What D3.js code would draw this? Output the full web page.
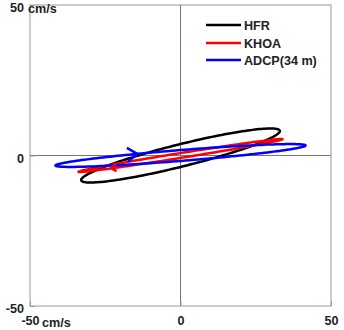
<!DOCTYPE html>
<html>
<head>
<meta charset="utf-8">
<script src="https://cdn.jsdelivr.net/npm/d3@7"></script>
<style>
  body { margin: 0; background: #fff; }
  text { font-family: "Liberation Sans", Arial, sans-serif; font-weight: bold; }
</style>
</head>
<body>
<div id="viz"></div>
<script>
// tidal ellipse parameters (cm/s, degrees)
var names = ["HFR", "KHOA", "ADCP(34 m)"];
var colors = ["#000000", "#ff0000", "#0000ff"];
var semiMajor = [34, 34.3, 41.7];
var semiMinor = [3.7, 0.8, 1.8];
var inclination = [14, 9.1, 4.6];
// phase of the direction marker on each ellipse (null = none drawn)
var markerPhase = [null, -133, 110];
var markerSize = [0, 6, 12];

var ticks = [-50, 0, 50];

var W = 344, H = 330;
var boxLeft = 30, boxRight = 331, boxTop = 5, boxBottom = 306;
var FONT = 12.6;

var svg = d3.select("#viz").append("svg")
	.attr("width", W)
	.attr("height", H);

var x = d3.scaleLinear().domain([-50, 50]).range([boxLeft, boxRight]);
var y = d3.scaleLinear().domain([-50, 50]).range([boxBottom, boxTop]);

// box
svg.append("rect")
	.attr("x", boxLeft).attr("y", boxTop)
	.attr("width", boxRight - boxLeft).attr("height", boxBottom - boxTop)
	.attr("fill", "none").attr("stroke", "#999").attr("stroke-width", 1);

// zero lines
svg.append("line")
	.attr("x1", x(0)).attr("x2", x(0)).attr("y1", boxTop).attr("y2", boxBottom)
	.attr("stroke", "#777").attr("stroke-width", 1);
svg.append("line")
	.attr("x1", boxLeft).attr("x2", boxRight).attr("y1", y(0)).attr("y2", y(0))
	.attr("stroke", "#777").attr("stroke-width", 1);

// axes (inward ticks)
var fmt = function(d) { return String(d); };
var yAxis = svg.append("g")
	.attr("transform", "translate(" + boxLeft + ",0)")
	.call(d3.axisLeft(y).tickValues(ticks).tickSize(-5).tickPadding(6).tickFormat(fmt));
var xAxis = svg.append("g")
	.attr("transform", "translate(0," + boxBottom + ")")
	.call(d3.axisBottom(x).tickValues(ticks).tickSize(-5).tickPadding(10).tickFormat(fmt));

[yAxis, xAxis].forEach(function(g) {
	g.select(".domain").remove();
	g.selectAll(".tick line").attr("stroke", "#999");
	g.selectAll(".tick text")
		.attr("fill", "#222")
		.style("font-size", FONT + "px")
		.style("font-family", "'Liberation Sans', Arial, sans-serif")
		.style("font-weight", "bold");
});
yAxis.selectAll(".tick text").attr("dy", "0.55em");

// units
svg.append("text").attr("x", 28).attr("y", 13).attr("font-size", FONT).attr("fill", "#222").text("cm/s");
svg.append("text").attr("x", 42).attr("y", 327).attr("font-size", FONT).attr("fill", "#222").text("cm/s");

// point on ellipse i at phase t (radians), in data units
function ellipsePoint(i, t) {
	var th = inclination[i] * Math.PI / 180;
	var a = semiMajor[i], b = semiMinor[i];
	return [
		a * Math.cos(t) * Math.cos(th) - b * Math.sin(t) * Math.sin(th),
		a * Math.cos(t) * Math.sin(th) + b * Math.sin(t) * Math.cos(th)
	];
}

var line = d3.line()
	.x(function(d) { return x(d[0]); })
	.y(function(d) { return y(d[1]); })
	.curve(d3.curveLinearClosed);

var phases = d3.range(0, 360, 2).map(function(d) { return d * Math.PI / 180; });

names.forEach(function(name, i) {
	var pts = phases.map(function(t) { return ellipsePoint(i, t); });
	svg.append("path")
		.attr("d", line(pts))
		.attr("fill", "none")
		.attr("stroke", colors[i])
		.attr("stroke-width", 2.5);
});

// direction markers (clockwise rotation)
names.forEach(function(name, i) {
	if (markerPhase[i] === null) return;
	var t = markerPhase[i] * Math.PI / 180;
	var p = ellipsePoint(i, t);
	var q = ellipsePoint(i, t - 0.02);
	var px = x(p[0]), py = y(p[1]);
	var dx = x(q[0]) - px, dy = y(q[1]) - py;
	var len = Math.sqrt(dx * dx + dy * dy);
	dx /= len; dy /= len;
	var s = markerSize[i];
	var ang = 35 * Math.PI / 180;
	var back = function(sign) {
		var c = Math.cos(sign * ang), sn = Math.sin(sign * ang);
		var rx = -dx * c + dy * sn, ry = -dx * sn - dy * c;
		return [px + rx * s, py + ry * s];
	};
	var b1 = back(1), b2 = back(-1);
	svg.append("path")
		.attr("d", "M" + b1[0] + "," + b1[1] + " L" + px + "," + py + " L" + b2[0] + "," + b2[1])
		.attr("fill", "none")
		.attr("stroke", colors[i])
		.attr("stroke-width", 2.5)
		.attr("stroke-linejoin", "round");
});

// legend
var legendY = [25, 43, 60];
names.forEach(function(name, i) {
	svg.append("line")
		.attr("x1", 206).attr("x2", 241)
		.attr("y1", legendY[i]).attr("y2", legendY[i])
		.attr("stroke", colors[i]).attr("stroke-width", 2.5);
	svg.append("text")
		.attr("x", 244).attr("y", legendY[i])
		.attr("dy", "0.36em")
		.attr("font-size", FONT)
		.attr("fill", "#222")
		.text(name);
});
</script>
</body>
</html>
